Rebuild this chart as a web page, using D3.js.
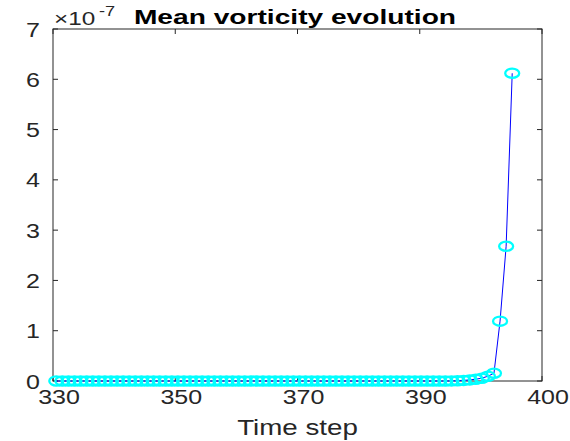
<!DOCTYPE html>
<html>
<head>
  <style type="text/css">
    body { margin: 0; background: #fff; }
    svg { display: block; font-family: "Liberation Sans", Arial, sans-serif; }
  </style>
</head>
<body>
<svg id="vis" width="570" height="441"></svg>
<script src="https://cdnjs.cloudflare.com/ajax/libs/d3/7.8.5/d3.min.js"></script>
<script type="text/javascript">

  // time steps and mean vorticity (in units of 1e-7)
  var timeSteps = [330, 331, 332, 333, 334, 335, 336, 337, 338, 339,
                   340, 341, 342, 343, 344, 345, 346, 347, 348, 349,
                   350, 351, 352, 353, 354, 355, 356, 357, 358, 359,
                   360, 361, 362, 363, 364, 365, 366, 367, 368, 369,
                   370, 371, 372, 373, 374, 375, 376, 377, 378, 379,
                   380, 381, 382, 383, 384, 385, 386, 387, 388, 389,
                   390, 391, 392, 393, 394, 395, 396, 397, 398, 399,
                   400, 401, 402, 403, 404, 405];
  var vorticity = [0, 0, 0, 0, 0, 0, 0, 0, 0, 0,
                   0, 0, 0, 0, 0, 0, 0, 0, 0, 0,
                   0, 0, 0, 0, 0, 0, 0, 0, 0, 0,
                   0, 0, 0, 0, 0, 0, 0, 0, 0, 0,
                   0, 0, 0, 0, 0, 0, 0, 0, 0, 0,
                   0, 0, 0, 0, 0, 0, 0, 0, 0, 0,
                   0, 0, 0, 0, 0, 0.002, 0.005, 0.012, 0.022, 0.036,
                   0.056, 0.095, 0.155, 1.19, 2.68, 6.12];
  var xTickLabels = ['330', '350', '370', '390', '400'];
  var yTicks = [0, 1, 2, 3, 4, 5, 6, 7];
  var xDomain = [329.46, 409.9];

  var margin = { top: 29, right: 28, bottom: 60, left: 53 },
      W = 570, H = 441,
      width = W - margin.left - margin.right,
      height = H - margin.top - margin.bottom,
      axisColor = '#262626',
      stretch = 1.25;   // picture text is wider than the font

  var svg = d3.select('#vis');
  var g = svg.append('g').attr('transform', 'translate(' + margin.left + ',' + margin.top + ')');

  var x = d3.scaleLinear().domain(xDomain).range([0, width]);
  var y = d3.scaleLinear().domain([0, 7]).range([height, 0]);

  var xTickVals = xTickLabels.map(function(d, i) {
    return xDomain[0] + i * (xDomain[1] - xDomain[0]) / (xTickLabels.length - 1);
  });

  function widen(sel, k) {
    sel.each(function() {
      var len = this.getComputedTextLength();
      d3.select(this).attr('textLength', len * k).attr('lengthAdjust', 'spacingAndGlyphs');
    });
  }

  // box
  g.append('rect')
    .attr('width', width).attr('height', height)
    .attr('fill', 'none').attr('stroke', axisColor).attr('stroke-width', 1);

  // ticks inside, on all four sides
  var tk = 5;
  g.selectAll('.xt').data(xTickVals).enter().append('line')
    .attr('x1', function(d) { return x(d) }).attr('x2', function(d) { return x(d) })
    .attr('y1', height).attr('y2', height - tk)
    .attr('stroke', axisColor);
  g.selectAll('.xt2').data(xTickVals).enter().append('line')
    .attr('x1', function(d) { return x(d) }).attr('x2', function(d) { return x(d) })
    .attr('y1', 0).attr('y2', tk)
    .attr('stroke', axisColor);
  g.selectAll('.yt').data(yTicks).enter().append('line')
    .attr('x1', 0).attr('x2', tk)
    .attr('y1', function(d) { return y(d) }).attr('y2', function(d) { return y(d) })
    .attr('stroke', axisColor);
  g.selectAll('.yt2').data(yTicks).enter().append('line')
    .attr('x1', width).attr('x2', width - tk)
    .attr('y1', function(d) { return y(d) }).attr('y2', function(d) { return y(d) })
    .attr('stroke', axisColor);

  // tick labels
  g.selectAll('.xl').data(xTickVals).enter().append('text')
    .attr('x', function(d) { return x(d) + 6 })
    .attr('y', height + 23)
    .attr('text-anchor', 'middle')
    .attr('font-size', 20)
    .attr('fill', axisColor)
    .text(function(d, i) { return xTickLabels[i] })
    .call(widen, stretch);

  g.selectAll('.yl').data(yTicks).enter().append('text')
    .attr('x', -13)
    .attr('y', function(d) { return y(d) + 7.5 })
    .attr('text-anchor', 'end')
    .attr('font-size', 20)
    .attr('fill', axisColor)
    .text(function(d) { return d })
    .call(widen, stretch);

  // exponent
  g.append('text').attr('x', 1).attr('y', -4)
    .attr('font-size', 18).attr('fill', axisColor)
    .text('\u00d710')
    .call(widen, 1.35);
  g.append('text').attr('x', 46).attr('y', -13)
    .attr('font-size', 14).attr('fill', axisColor)
    .text('-7')
    .call(widen, 1.3);

  // axis label and title
  g.append('text')
    .attr('x', width / 2).attr('y', height + 54)
    .attr('text-anchor', 'middle')
    .attr('font-size', 22)
    .attr('fill', axisColor)
    .text('Time step')
    .call(widen, 1.26);

  svg.append('text')
    .attr('x', 295).attr('y', 23.5)
    .attr('text-anchor', 'middle')
    .attr('font-size', 21).attr('font-weight', 'bold')
    .attr('fill', '#000')
    .text('Mean vorticity evolution')
    .call(widen, 1.34);

  // line and markers
  var pts = timeSteps.map(function(t, i) { return { t: t, v: vorticity[i] } });

  g.append('path')
    .datum(pts)
    .attr('fill', 'none')
    .attr('stroke', '#0000ff')
    .attr('stroke-width', 1)
    .attr('d', d3.line().x(function(d) { return x(d.t) }).y(function(d) { return y(d.v) }));

  g.selectAll('.pt').data(pts).enter().append('ellipse')
    .attr('cx', function(d) { return x(d.t) })
    .attr('cy', function(d) { return y(d.v) })
    .attr('rx', 7).attr('ry', 4.6)
    .attr('fill', 'none')
    .attr('stroke', '#00ffff')
    .attr('stroke-width', 2.3);

</script>
</body>
</html>
